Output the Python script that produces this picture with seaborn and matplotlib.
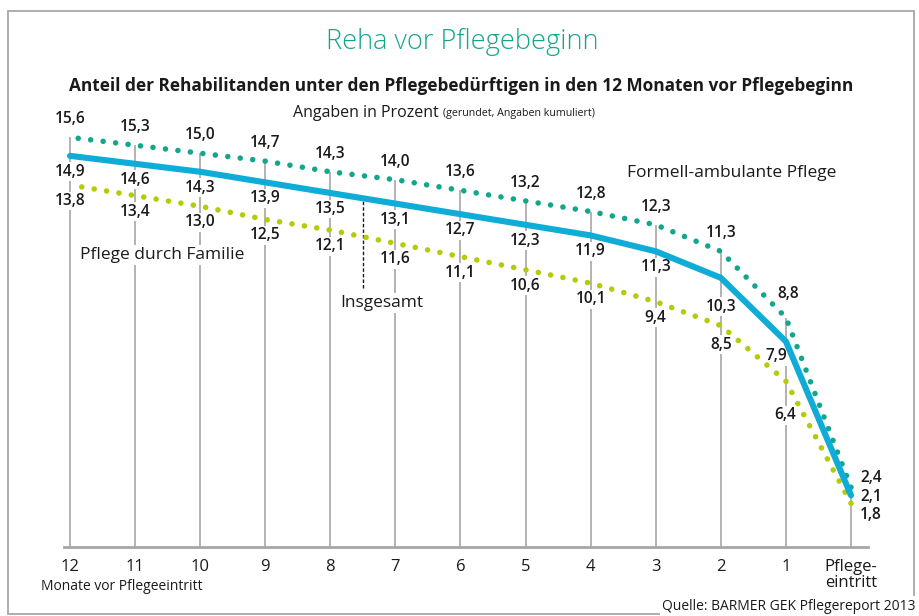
import numpy as np
import pandas as pd
import matplotlib
matplotlib.use("Agg")
import matplotlib.pyplot as plt
import seaborn as sns
from matplotlib.patches import Rectangle

# Months before entry into care (0 = Pflegeeintritt)
months = [12, 11, 10, 9, 8, 7, 6, 5, 4, 3, 2, 1, 0]
tick_labels = ["12", "11", "10", "9", "8", "7", "6", "5", "4", "3", "2", "1",
               "Pflege-\neintritt"]

# Share of rehabilitation patients, percent (cumulative)
formell = [15.6, 15.3, 15.0, 14.7, 14.3, 14.0, 13.6, 13.2, 12.8, 12.3, 11.3, 8.8, 2.4]
insgesamt = [14.9, 14.6, 14.3, 13.9, 13.5, 13.1, 12.7, 12.3, 11.9, 11.3, 10.3, 7.9, 2.1]
familie = [13.8, 13.4, 13.0, 12.5, 12.1, 11.6, 11.1, 10.6, 10.1, 9.4, 8.5, 6.4, 1.8]

TEAL = "#12a68c"
BLUE = "#10acd8"
LIME = "#b4cb05"
GRID = "#a6a6a6"
INK = "#1a1a1a"

sns.set_theme(style="white")
plt.rcParams["font.family"] = ["Open Sans", "DejaVu Sans"]

W, H = 920, 616
fig = plt.figure(figsize=(W / 100, H / 100), dpi=100)


def fx(px):
    return px / W


def fy(py):
    return 1 - py / H


# plot area: axis line from x=64 to 868 px, baseline at y=547 px
ax = fig.add_axes([fx(64), fy(547), fx(868) - fx(64), fy(100) - fy(547)])
ax.set_xlim(12 + 6 / 65.08, -17 / 65.08)
ax.set_ylim(0.15, (551 - 100) / 26.52)

df = pd.DataFrame({"Monat": months, "Formell": formell,
                   "Insgesamt": insgesamt, "Familie": familie})

# vertical guide lines from the baseline up to the top series
ax.vlines(df["Monat"], 0.15, df["Formell"], color=GRID, lw=1.2, zorder=1)

dot = (0, (0.01, 2.25))
sns.lineplot(data=df, x="Monat", y="Formell", ax=ax, color=TEAL, linewidth=4.0,
             linestyle=dot, dash_capstyle="round", zorder=4)
sns.lineplot(data=df, x="Monat", y="Familie", ax=ax, color=LIME, linewidth=4.0,
             linestyle=dot, dash_capstyle="round", zorder=4)
sns.lineplot(data=df, x="Monat", y="Insgesamt", ax=ax, color=BLUE, linewidth=4.4,
             solid_capstyle="round", solid_joinstyle="miter", zorder=5)

# value labels: offsets in pixels (dx right, dy down)
offsets = {
    "Formell": {i: (0, -18) for i in range(13)},
    "Insgesamt": {i: (0, 16) for i in range(13)},
    "Familie": {i: (0, 16) for i in range(13)},
}
offsets["Insgesamt"][10] = (0, 29)
offsets["Familie"][10] = (0, 19)
offsets["Formell"][11] = (2, -24)
offsets["Insgesamt"][11] = (-10, 15)
offsets["Familie"][11] = (-1, 34)
offsets["Formell"][12] = (20, -9)
offsets["Insgesamt"][12] = (20, 2)
offsets["Familie"][12] = (20, 12)

for col in ["Formell", "Insgesamt", "Familie"]:
    for i, (m, v) in enumerate(zip(df["Monat"], df[col])):
        dx, dy = offsets[col][i]
        ax.annotate(f"{v:.1f}".replace(".", ","), xy=(m, v),
                    xytext=(dx * 0.72, -dy * 0.72), textcoords="offset points",
                    ha="center", va="center", fontsize=11.2, fontweight="semibold",
                    color=INK, zorder=2,
                    bbox=dict(facecolor="white", edgecolor="none", pad=1.0))

# series names
ax.text(3.44, 14.25, "Formell-ambulante Pflege", ha="left", va="center",
        fontsize=12.5, color=INK, zorder=2)
ax.text(11.85, 11.16, "Pflege durch Familie", ha="left", va="center",
        fontsize=12.5, color=INK, zorder=2,
        bbox=dict(facecolor="white", edgecolor="none", pad=1.5))
ins_top = np.interp(7.5, months[::-1], insgesamt[::-1])
ax.vlines(7.5, 9.9, ins_top, color=INK, lw=1.0, linestyles=(0, (2.5, 1.5)), zorder=3)
ax.text(7.85, 9.35, "Insgesamt", ha="left", va="center", fontsize=12.5, color=INK,
        zorder=2, bbox=dict(facecolor="white", edgecolor="none", pad=1.5))

# axes styling
for side in ["top", "right", "left"]:
    ax.spines[side].set_visible(False)
ax.spines["bottom"].set_color(GRID)
ax.spines["bottom"].set_linewidth(2.0)
ax.set_yticks([])
ax.set_xticks(months)
ax.set_xticklabels(tick_labels, fontsize=12, color=INK, linespacing=1.05)
ax.tick_params(axis="x", length=0, pad=8.5)
ax.set_xlabel("")
ax.set_ylabel("")

# headings
fig.text(fx(462), fy(42), "Reha vor Pflegebeginn", ha="center", va="center",
         color=TEAL, fontsize=19.5, fontweight="light")
fig.text(fx(461), fy(86),
         "Anteil der Rehabilitanden unter den Pflegebedürftigen in den 12 Monaten vor Pflegebeginn",
         ha="center", va="center", color=INK, fontsize=12.45, fontweight="bold")
t1 = fig.text(fx(293), fy(113), "Angaben in Prozent", ha="left", va="center",
              color=INK, fontsize=11.5)
ax.annotate("(gerundet, Angaben kumuliert)", xy=(1, 0), xycoords=t1,
            xytext=(3, 1.5), textcoords="offset points", ha="left", va="bottom",
            fontsize=7.7, color=INK, annotation_clip=False)
fig.text(fx(41), fy(587), "Monate vor Pflegeeintritt", ha="left", va="center",
         color=INK, fontsize=10)

# frame and source
fig.patches.append(Rectangle((fx(8), fy(614)), fx(914) - fx(8), fy(11) - fy(614),
                             transform=fig.transFigure, fill=False,
                             edgecolor="#a8a8a8", lw=1.3, zorder=1))
fig.text(fx(916), fy(606.5), "Quelle: BARMER GEK Pflegereport 2013", ha="right",
         va="center", color=INK, fontsize=10, zorder=3,
         bbox=dict(facecolor="white", edgecolor="none", pad=2))

fig.savefig("out.png", dpi=100)
